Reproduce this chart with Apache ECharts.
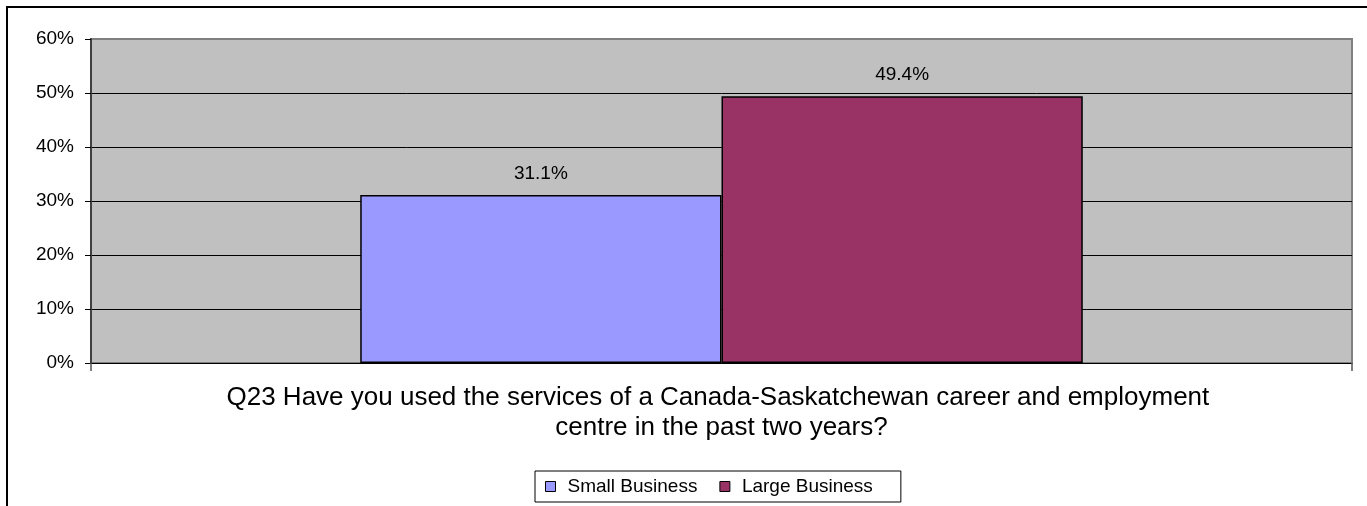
<!DOCTYPE html>
<html>
<head>
<meta charset="utf-8">
<script src="https://cdn.jsdelivr.net/npm/echarts@6/dist/echarts.min.js"></script>
<style>
  html, body { margin: 0; padding: 0; background: #fff; }
  #chart { width: 1367px; height: 506px; }
</style>
</head>
<body>
<div id="chart"></div>
<script>
// Survey question (single category) and the share answering "yes" per business size
const categories = ['Q23 Have you used the services of a Canada-Saskatchewan career and employment centre in the past two years?'];
const seriesNames = ['Small Business', 'Large Business'];
const smallBusiness = [31.1];
const largeBusiness = [49.4];
const yTicks = [0, 10, 20, 30, 40, 50, 60];

const FONT = '"Liberation Sans", Arial, sans-serif';
const chart = echarts.init(document.getElementById('chart'), null, { renderer: 'canvas' });

// gridlines are black except the top one, which belongs to the grey plot frame
const gridColors = yTicks.map((t, i) => (i === yTicks.length - 1 ? '#808080' : '#000000'));

const barLabel = {
  show: true,
  position: 'top',
  distance: 12,
  color: '#000',
  fontFamily: FONT,
  fontSize: 19,
  formatter: p => p.value.toFixed(1) + '%'
};

chart.setOption({
  animation: false,
  backgroundColor: '#ffffff',
  textStyle: { fontFamily: FONT },
  graphic: [{
    type: 'rect',
    silent: true,
    shape: { x: 7, y: 7, width: 1400, height: 600 },
    style: { fill: 'none', stroke: '#000', lineWidth: 2 }
  }],
  grid: {
    left: 91, right: 15, top: 39, bottom: 143,
    show: true,
    backgroundColor: '#C0C0C0',
    borderColor: '#808080',
    borderWidth: 2
  },
  legend: {
    data: seriesNames,
    left: 535,
    top: 471,
    orient: 'horizontal',
    icon: 'rect',
    itemWidth: 10,
    itemHeight: 10,
    itemGap: 22,
    padding: [6, 28, 6, 10],
    borderColor: '#000',
    borderWidth: 1,
    backgroundColor: '#fff',
    itemStyle: { borderColor: '#000', borderWidth: 1 },
    textStyle: { fontFamily: FONT, fontSize: 19, color: '#000', padding: [0, 0, 0, 7] }
  },
  xAxis: {
    type: 'category',
    data: categories,
    boundaryGap: true,
    axisLine: { show: true, lineStyle: { color: '#000', width: 1 } },
    axisTick: { show: true, length: 8, alignWithLabel: false, lineStyle: { color: '#555', width: 1.5 } },
    axisLabel: {
      margin: 20,
      fontFamily: FONT,
      fontSize: 26,
      lineHeight: 30,
      color: '#000',
      width: 1040,
      overflow: 'break',
      align: 'center'
    },
    splitLine: { show: false }
  },
  yAxis: {
    type: 'value',
    min: 0,
    max: 60,
    interval: 10,
    axisLine: { show: true, lineStyle: { color: '#404040', width: 2 } },
    axisTick: { show: true, inside: false, length: 6, lineStyle: { color: '#000', width: 1 } },
    axisLabel: {
      margin: 17,
      fontFamily: FONT,
      fontSize: 19,
      color: '#000',
      formatter: v => v + '%'
    },
    splitLine: { show: true, lineStyle: { color: gridColors, width: 1 } }
  },
  series: [
    {
      name: seriesNames[0],
      type: 'bar',
      data: smallBusiness,
      barGap: '0%',
      barCategoryGap: '42.7%',
      itemStyle: { color: '#9999FF', borderColor: '#000', borderWidth: 1.5 },
      label: barLabel
    },
    {
      name: seriesNames[1],
      type: 'bar',
      data: largeBusiness,
      barGap: '0%',
      barCategoryGap: '42.7%',
      itemStyle: { color: '#993366', borderColor: '#000', borderWidth: 1.5 },
      label: barLabel
    }
  ]
});
</script>
</body>
</html>
